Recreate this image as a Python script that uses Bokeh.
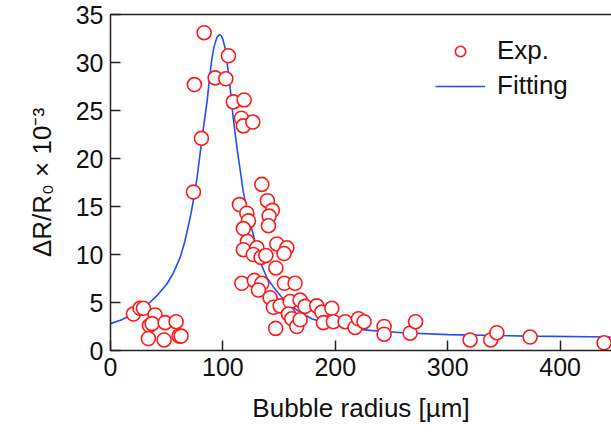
from bokeh.plotting import figure
from bokeh.models import Range1d, LinearAxis, FixedTicker, Legend, LegendItem, ColumnDataSource
from bokeh.embed import file_html
from bokeh.resources import INLINE

# Experimental data (bubble radius [um], dR/R0 x 1e-3)
exp_x = [20.4, 26.3, 29.3, 39.7, 34.6, 37.0, 48.6, 58.4, 33.7, 47.7, 61.0, 62.8,
         73.8, 74.6, 83.3, 80.9, 93.1, 102.6, 104.9, 109.3, 118.9, 116.5, 118.2, 126.6,
         114.7, 134.6, 139.6, 121.3, 144.0, 122.7, 141.1, 118.2, 140.5, 121.8, 118.2,
         130.2, 127.1, 134.0, 138.2, 148.0, 156.9, 154.4, 147.1, 116.8, 128.0, 134.6,
         131.6, 154.7, 142.0, 144.9, 150.9, 159.8, 168.7, 164.2, 173.1, 183.5, 188.0,
         196.9, 158.3, 161.3, 165.7, 168.7, 146.9, 189.4, 198.3, 208.7, 217.6, 220.6,
         225.6, 243.4, 243.4, 266.5, 271.4, 319.9, 338.3, 343.7, 373.3, 439.1]
exp_y = [3.8, 4.4, 4.4, 3.7, 2.6, 2.8, 2.9, 3.0, 1.25, 1.1, 1.5, 1.5,
         16.5, 27.7, 33.1, 22.1, 28.4, 28.3, 30.7, 25.9, 26.1, 24.2, 23.4, 23.8,
         15.2, 17.3, 15.6, 14.3, 14.6, 13.5, 14.0, 12.7, 13.0, 11.35, 10.5,
         10.7, 10.0, 9.7, 9.9, 11.1, 10.7, 10.1, 8.6, 7.0, 7.3, 7.0,
         6.3, 7.0, 5.5, 4.5, 4.65, 5.1, 5.25, 7.0, 4.6, 4.65, 4.0,
         4.4, 3.8, 3.3, 2.5, 3.2, 2.3, 2.9, 3.0, 3.0, 2.4, 3.3,
         3.0, 2.5, 1.7, 1.8, 3.0, 1.1, 1.1, 1.85, 1.4, 0.8]

# Fitting curve
fit_x = [0, 10, 20, 28, 35, 42, 50, 56, 62, 66, 71, 74, 77, 80, 83, 86, 88, 90, 92,
         94.6, 97, 98.5, 100, 102, 103.5, 105.5, 107.3, 109, 111, 113, 115, 118, 122,
         127, 133, 139, 145, 152, 160, 170, 179, 190, 200, 215, 231, 260, 300, 373, 445.7]
fit_y = [2.8, 3.2, 3.8, 4.3, 5.0, 5.8, 6.9, 8.1, 9.7, 11.3, 13.9, 15.8, 18.0, 20.8, 23.5, 26.0,
         28.3, 30.2, 31.6, 32.6, 32.9, 32.8, 32.4, 31.5, 30.2, 28.4, 26.4, 24.4, 22.5, 20.7,
         19.1, 16.6, 14.3, 12.1, 9.3, 7.6, 6.6, 5.6, 4.7, 3.9, 3.3, 2.9, 2.6, 2.3, 2.1, 1.85,
         1.65, 1.5, 1.4]

x_ticks = [0, 100, 200, 300, 400]
y_ticks = [0, 5, 10, 15, 20, 25, 30, 35]

FONT = "Liberation Sans"

p = figure(width=611, height=436, output_backend="svg", toolbar_location=None,
           x_range=Range1d(0, 445.7), y_range=Range1d(0, 35),
           min_border_left=110, min_border_right=0, min_border_top=14, min_border_bottom=86)
p.background_fill_color = "white"
p.border_fill_color = "white"
p.outline_line_color = None
p.xgrid.visible = False
p.ygrid.visible = False

line_r = p.line(fit_x, fit_y, line_color="#1f4dff", line_width=1.6)
src = ColumnDataSource(dict(x=exp_x, y=exp_y))
circ_r = p.scatter("x", "y", source=src, size=14, marker="circle", fill_color="white",
                   line_color="#ff1a1a", line_width=1.6)

for ax in (p.xaxis[0], p.yaxis[0]):
    ax.major_tick_in = 10
    ax.major_tick_out = 0
    ax.minor_tick_line_color = None
    ax.axis_line_width = 1.5
    ax.major_tick_line_width = 1.5
    ax.axis_line_color = "#222222"
    ax.major_tick_line_color = "#222222"
    ax.major_label_text_font = FONT
    ax.major_label_text_font_size = "25px"
    ax.major_label_text_color = "#111111"
    ax.axis_label_text_font = FONT
    ax.axis_label_text_font_size = "26px"
    ax.axis_label_text_font_style = "normal"
    ax.axis_label_text_color = "#111111"

p.xaxis[0].ticker = FixedTicker(ticks=x_ticks)
p.yaxis[0].ticker = FixedTicker(ticks=y_ticks)
p.xaxis[0].axis_label = "Bubble radius [µm]"
p.yaxis[0].axis_label = "ΔR/R₀ × 10⁻³"
p.xaxis[0].major_label_standoff = 7
p.xaxis[0].axis_label_standoff = 14
p.yaxis[0].major_label_standoff = 7
p.yaxis[0].axis_label_standoff = 16

top = LinearAxis(ticker=FixedTicker(ticks=[]), major_label_text_font_size="0px",
                 major_tick_line_color=None, minor_tick_line_color=None,
                 axis_line_color="#222222", axis_line_width=1.5)
p.add_layout(top, "above")

legend = Legend(items=[LegendItem(label="Exp.", renderers=[circ_r]),
                       LegendItem(label="Fitting", renderers=[line_r])],
                location=(325, 249))
legend.glyph_width = 50
legend.glyph_height = 26
legend.label_height = 26
legend.spacing = 4
legend.padding = 0
legend.margin = 0
legend.label_standoff = 12
legend.border_line_color = None
legend.background_fill_alpha = 0
legend.label_text_font = FONT
legend.label_text_font_size = "26px"
legend.label_text_color = "#111111"
p.add_layout(legend, "center")

open("out.html", "w").write(file_html(p, INLINE))
